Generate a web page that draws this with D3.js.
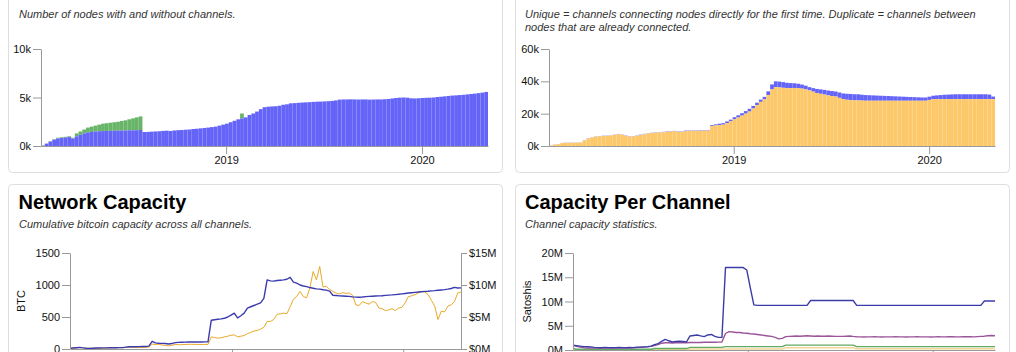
<!DOCTYPE html>
<html>
<head>
<meta charset="utf-8">
<script src="https://cdn.jsdelivr.net/npm/d3@7"></script>
<style>
  body { margin: 0; background: #fff; }
  svg text { font-family: "Liberation Sans", Arial, Helvetica, sans-serif; }
</style>
</head>
<body>
<svg id="chart" width="1016" height="352"></svg>
<script>
// weekly samples, first week starts 2018-01-21, last date 2020-05-03
const firstWeek = new Date(2018, 0, 21);
const weekDates = d3.range(120).map(i => d3.timeDay.offset(firstWeek, 7 * i));
const yearTicks = [new Date(2019, 0, 1), new Date(2020, 0, 1)];

// Nodes (thousands)
const nodesWithChannels = [
  0.05,0.25,0.45,0.65,0.78,0.82,0.88,0.92,0.75,1.0,
  1.15,1.3,1.4,1.45,1.5,1.52,1.54,1.55,1.56,1.58,
  1.58,1.6,1.6,1.62,1.62,1.63,1.65,1.44,1.45,1.48,
  1.5,1.52,1.56,1.58,1.55,1.6,1.63,1.65,1.68,1.7,
  1.75,1.78,1.82,1.86,1.9,1.95,2.0,2.1,2.2,2.3,
  2.45,2.6,2.75,2.85,2.95,3.2,3.35,3.55,3.8,4.0,
  4.05,4.08,4.1,4.15,4.25,4.3,4.4,4.42,4.45,4.48,
  4.5,4.52,4.55,4.57,4.58,4.6,4.62,4.65,4.7,4.78,
  4.8,4.8,4.81,4.8,4.79,4.8,4.8,4.78,4.79,4.8,
  4.8,4.82,4.85,4.9,4.95,4.98,5.0,4.98,4.92,4.9,
  4.92,4.95,4.97,4.98,5.0,5.05,5.08,5.12,5.16,5.2,
  5.22,5.25,5.28,5.32,5.36,5.4,5.45,5.5,5.57];
const nodesWithoutChannels = [
  0,0,0.05,0.05,0.07,0.08,0.07,0.08,0.1,0.3,
  0.35,0.4,0.5,0.55,0.6,0.68,0.76,0.8,0.84,0.87,
  0.92,0.98,1.05,1.13,1.23,1.32,1.4,0,0,0,
  0,0,0,0,0,0,0,0,0,0,
  0,0,0,0,0,0,0,0,0,0,
  0,0,0,0.5,0,0,0,0,0,0,
  0,0,0,0,0,0,0,0,0,0,
  0,0,0,0,0,0,0,0,0,0,
  0,0,0,0,0,0,0,0,0,0,
  0,0,0,0,0,0,0,0,0,0,
  0,0,0,0,0,0,0,0,0,0,
  0,0,0,0,0,0,0,0,0];

// Channels (thousands)
const channelsUnique = [
  0.3,0.8,1.1,1.8,2.0,2.0,2.0,2.0,2.1,3.5,
  4.7,5.3,5.8,6.0,6.2,6.3,6.5,6.8,7.3,7.0,
  6.3,5.8,6.0,6.3,6.8,7.3,7.8,8.0,8.2,8.4,
  8.5,8.7,9.0,9.1,8.8,8.7,9.3,9.4,9.4,9.4,
  9.4,9.5,9.5,12.4,12.7,13.0,13.2,14.2,15.2,16.5,
  17.6,18.8,20.0,21.3,23.2,25.3,27.3,28.8,31.5,35.0,
  36.4,36.2,36.0,35.8,35.8,35.9,35.8,35.5,35.0,34.4,
  33.6,32.8,32.3,31.8,31.3,30.9,30.6,29.8,29.0,28.6,
  28.4,28.2,28.2,28.1,28.0,28.0,28.0,28.0,28.0,28.0,
  28.0,28.0,28.0,28.0,28.0,28.0,28.0,28.0,28.0,28.0,
  28.0,28.5,29.0,29.0,29.0,29.0,29.0,29.0,29.0,29.0,
  29.0,29.0,29.0,29.0,29.0,29.0,29.0,29.0,29.0];
const channelsDuplicate = [
  0.05,0.1,0.1,0.1,0.1,0.1,0.1,0.1,0.1,0.15,
  0.15,0.15,0.15,0.15,0.15,0.15,0.15,0.15,0.15,0.15,
  0.2,0.2,0.2,0.2,0.2,0.2,0.2,0.2,0.2,0.2,
  0.25,0.25,0.25,0.25,0.25,0.25,0.25,0.25,0.25,0.25,
  0.3,0.3,0.3,0.5,0.7,0.8,0.9,1.0,1.1,1.3,
  1.4,1.5,1.6,1.7,1.6,1.5,1.4,1.6,2.3,3.1,
  3.6,3.6,3.5,3.3,3.1,2.9,2.7,2.5,2.3,2.0,
  2.2,2.5,2.7,2.9,3.0,3.1,3.1,3.3,3.5,3.7,
  3.8,3.8,3.8,3.6,3.5,3.4,3.3,3.2,3.1,3.0,
  2.9,2.8,2.7,2.6,2.5,2.4,2.3,2.2,2.1,2.0,
  2.0,2.0,2.1,2.3,2.5,2.7,2.8,2.9,3.0,3.0,
  3.0,3.0,3.0,3.0,3.0,3.0,3.0,2.8,1.6];

// Network capacity: BTC and USD (millions)
const capacityBtc = [
  10,15,20,26,18,12,10,12,15,16,
  18,18,20,20,20,22,22,30,36,36,
  36,37,38,40,45,120,95,90,88,85,
  78,85,100,104,106,108,110,110,110,110,
  110,112,112,450,458,465,470,480,500,530,
  560,485,520,560,640,660,680,700,720,790,
  1080,1065,1060,1070,1075,1080,1090,1120,1045,1030,
  1000,985,975,960,950,940,935,925,920,905,
  840,835,830,828,825,823,815,810,808,812,
  818,822,825,828,830,833,838,842,845,850,
  855,862,868,875,880,885,890,895,900,903,
  908,912,918,922,927,935,945,962,953,955];
const capacityUsd = [
  0.12,0.17,0.16,0.22,0.19,0.12,0.11,0.11,0.12,0.13,
  0.12,0.13,0.16,0.18,0.18,0.21,0.19,0.25,0.26,0.27,
  0.24,0.24,0.23,0.26,0.30,0.76,0.70,0.74,0.62,0.54,
  0.50,0.57,0.73,0.66,0.69,0.71,0.73,0.73,0.72,0.72,
  0.70,0.72,0.71,1.9,1.8,1.7,1.75,1.9,2.0,2.15,
  2.2,1.9,2.0,2.1,2.4,2.6,2.8,2.9,3.1,3.4,
  4.3,4.3,4.6,5.4,5.5,5.6,5.5,6.6,7.8,8.2,
  9.0,8.2,8.0,9.5,12.1,10.8,12.9,9.7,9.8,9.3,
  9.0,8.75,8.6,8.8,8.7,8.75,8.4,6.9,6.8,7.4,
  7.2,7.0,7.4,7.3,6.4,6.3,6.0,6.1,6.3,6.0,
  6.4,6.5,7.2,8.2,8.3,8.5,8.75,9.0,8.9,8.5,
  7.6,6.7,4.6,5.9,5.8,6.7,6.9,7.4,8.75,8.9];

// Capacity per channel (millions of satoshis)
const perChannelHigh = [
  1.0,0.9,0.8,0.7,0.7,0.65,0.55,0.5,0.45,0.55,
  0.5,0.45,0.5,0.55,0.5,0.5,0.55,0.5,0.6,0.6,
  0.65,0.7,0.8,1.1,1.3,1.8,2.2,1.9,1.65,1.75,
  1.8,1.75,1.65,2.9,3.0,3.1,2.9,2.75,3.1,3.2,
  2.8,2.6,2.6,17.0,17.0,17.0,17.0,17.0,17.0,16.5,
  12.8,9.3,9.2,9.2,9.2,9.2,9.2,9.2,9.2,9.2,
  9.2,9.2,9.2,9.2,9.2,9.2,9.2,10.2,10.2,10.2,
  10.2,10.2,10.2,10.2,10.2,10.2,10.2,10.2,10.2,10.2,
  9.2,9.2,9.2,9.2,9.2,9.2,9.2,9.2,9.2,9.2,
  9.2,9.2,9.2,9.2,9.2,9.2,9.2,9.2,9.2,9.2,
  9.2,9.2,9.2,9.2,9.2,9.2,9.2,9.2,9.2,9.2,
  9.2,9.2,9.2,9.2,9.2,9.2,10.1,10.1,10.1,10.1];
const perChannelMean = [
  0.9,0.75,0.6,0.5,0.42,0.4,0.38,0.4,0.42,0.4,
  0.38,0.4,0.42,0.45,0.42,0.4,0.42,0.45,0.5,0.55,
  0.6,0.65,0.75,0.9,1.1,1.4,1.5,1.5,1.45,1.5,
  1.5,1.5,1.5,1.55,1.55,1.55,1.55,1.6,1.6,1.6,
  1.6,1.62,1.65,3.4,3.8,3.7,3.6,3.6,3.5,3.45,
  3.35,3.3,3.2,3.1,3.0,2.9,2.8,2.6,2.3,2.4,
  2.75,2.8,2.85,2.9,2.85,2.9,2.95,2.9,2.85,2.9,
  2.85,2.85,2.9,2.85,2.8,2.8,2.8,2.85,2.9,2.8,
  2.72,2.7,2.68,2.7,2.7,2.72,2.7,2.68,2.7,2.7,
  2.7,2.72,2.7,2.7,2.68,2.7,2.7,2.72,2.7,2.7,
  2.7,2.68,2.7,2.72,2.7,2.7,2.72,2.75,2.7,2.7,
  2.72,2.72,2.75,2.7,2.75,2.8,2.85,2.95,3.0,2.95];
const perChannelMedian = [
  0.3,0.15,0.15,0.15,0.15,0.15,0.15,0.15,0.15,0.15,
  0.15,0.15,0.15,0.15,0.15,0.15,0.15,0.15,0.15,0.15,
  0.15,0.15,0.15,0.3,0.3,0.3,0.3,0.3,0.3,0.3,
  0.3,0.3,0.3,0.55,0.55,0.55,0.55,0.55,0.55,0.55,
  0.55,0.55,0.55,0.7,0.7,0.7,0.7,0.7,0.7,0.7,
  0.7,0.7,0.7,0.7,0.7,0.7,0.7,0.7,0.7,0.7,
  1.0,1.0,1.0,1.0,1.0,1.0,1.0,1.0,1.0,1.0,
  1.0,1.0,1.0,1.0,1.0,1.0,1.0,1.0,1.0,1.0,
  0.7,0.7,0.7,0.7,0.7,0.7,0.7,0.7,0.7,0.7,
  0.7,0.7,0.7,0.7,0.7,0.7,0.7,0.7,0.7,0.7,
  0.7,0.7,0.7,0.7,0.7,0.7,0.7,0.7,0.7,0.7,
  0.7,0.7,0.7,0.7,0.7,0.7,0.7,0.7,0.7,0.7];
const perChannelLow = [
  0.08,0.08,0.08,0.08,0.08,0.08,0.08,0.08,0.08,0.08,
  0.08,0.08,0.08,0.08,0.08,0.08,0.08,0.08,0.08,0.08,
  0.08,0.08,0.08,0.08,0.08,0.08,0.08,0.08,0.08,0.08,
  0.08,0.08,0.08,0.2,0.2,0.2,0.2,0.2,0.2,0.2,
  0.2,0.2,0.2,0.2,0.2,0.2,0.2,0.2,0.2,0.2,
  0.2,0.2,0.2,0.2,0.2,0.2,0.2,0.2,0.2,0.2,
  0.45,0.45,0.45,0.45,0.45,0.45,0.45,0.45,0.45,0.45,
  0.45,0.45,0.45,0.45,0.45,0.45,0.45,0.45,0.45,0.45,
  0.25,0.25,0.25,0.25,0.25,0.25,0.25,0.25,0.25,0.25,
  0.25,0.25,0.25,0.25,0.25,0.25,0.25,0.25,0.25,0.25,
  0.25,0.25,0.25,0.25,0.25,0.25,0.25,0.25,0.25,0.25,
  0.25,0.25,0.25,0.25,0.25,0.25,0.25,0.25,0.25,0.25];

const svg = d3.select("#chart");

/* cards */
const cards = [
  {x: 8.5,   y: -27.5, w: 494, h: 200},
  {x: 515.5, y: -27.5, w: 494, h: 200},
  {x: 8.5,   y: 184.5, w: 494, h: 200},
  {x: 515.5, y: 184.5, w: 494, h: 200}
];
svg.selectAll("rect.card")
  .data(cards)
  .enter()
  .append("rect")
  .attr("class", "card")
  .attr("x", d => d.x).attr("y", d => d.y)
  .attr("width", d => d.w).attr("height", d => d.h)
  .attr("rx", 4)
  .attr("fill", "#fff")
  .attr("stroke", "#dddddd");

/* titles and captions (top two titles sit above the visible area) */
const titles = [
  {t: "Nodes", x: 19, y: -0.5},
  {t: "Channels", x: 525, y: -0.5},
  {t: "Network Capacity", x: 18.5, y: 209},
  {t: "Capacity Per Channel", x: 525, y: 209}
];
svg.selectAll("text.title")
  .data(titles)
  .enter()
  .append("text")
  .attr("class", "title")
  .attr("x", d => d.x).attr("y", d => d.y)
  .attr("font-size", 20).attr("font-weight", "bold").attr("fill", "#000")
  .text(d => d.t);

const captions = [
  {t: "Number of nodes with and without channels.", x: 19, y: 18},
  {t: "Unique = channels connecting nodes directly for the first time. Duplicate = channels between", x: 525, y: 18},
  {t: "nodes that are already connected.", x: 525, y: 31},
  {t: "Cumulative bitcoin capacity across all channels.", x: 19, y: 228},
  {t: "Channel capacity statistics.", x: 525, y: 228}
];
svg.selectAll("text.caption")
  .data(captions)
  .enter()
  .append("text")
  .attr("class", "caption")
  .attr("x", d => d.x).attr("y", d => d.y)
  .attr("font-size", 11).attr("font-style", "italic").attr("fill", "#333")
  .text(d => d.t);

function styleAxis(g) {
  g.attr("font-family", null).attr("font-size", null);
  g.select(".domain").attr("stroke", "#999");
  g.selectAll(".tick line").attr("stroke", "#999");
  g.selectAll(".tick text").attr("fill", "#111").attr("font-size", 11);
}

function xAxisFor(g, xScale, y) {
  g.append("g")
    .attr("transform", `translate(0,${y})`)
    .call(d3.axisBottom(xScale).tickValues(yearTicks).tickFormat(d3.timeFormat("%Y"))
            .tickSizeInner(8).tickSizeOuter(0).tickPadding(2))
    .call(styleAxis);
}

/* stacked weekly bars */
function stackedBars(box, lower, upper, yMax, yTicks, lowColor, upColor) {
  const xScale = d3.scaleTime().domain([weekDates[0], weekDates[119]]).range([box.left, box.right]);
  const yScale = d3.scaleLinear().domain([0, yMax]).range([box.bottom, box.top]);
  const g = svg.append("g");
  const idx = d3.range(119);

  g.selectAll(".upper")
    .data(idx)
    .enter()
    .append("rect")
    .attr("x", i => xScale(weekDates[i]))
    .attr("width", i => xScale(weekDates[i + 1]) - xScale(weekDates[i]))
    .attr("y", i => yScale(lower[i] + upper[i]))
    .attr("height", i => yScale(lower[i]) - yScale(lower[i] + upper[i]))
    .attr("fill", upColor);

  g.selectAll(".lower")
    .data(idx)
    .enter()
    .append("rect")
    .attr("x", i => xScale(weekDates[i]))
    .attr("width", i => xScale(weekDates[i + 1]) - xScale(weekDates[i]))
    .attr("y", i => yScale(lower[i]))
    .attr("height", i => box.bottom - yScale(lower[i]))
    .attr("fill", lowColor);

  g.append("g")
    .attr("transform", `translate(${box.left},0)`)
    .call(d3.axisLeft(yScale).tickValues(yTicks).tickFormat(d => d + "k")
            .tickSizeInner(8).tickSizeOuter(0).tickPadding(2))
    .call(styleAxis);
  xAxisFor(g, xScale, box.bottom);
}

stackedBars({left: 41, right: 488, top: 49, bottom: 146},
  nodesWithChannels, nodesWithoutChannels, 10, [0, 5, 10], "#6464f8", "#68b468");
stackedBars({left: 549, right: 995, top: 49, bottom: 146},
  channelsUnique, channelsDuplicate, 60, [0, 20, 40, 60], "#fdc86a", "#6464f8");

/* line panels */
function linePanel(box, series, yMax, yTicks, yFormat, yLabel) {
  const xScale = d3.scaleTime().domain([weekDates[0], weekDates[119]]).range([box.left, box.right]);
  const yScale = d3.scaleLinear().domain([0, yMax]).range([box.bottom, box.top]);
  const g = svg.append("g");

  series.forEach(s => {
    const sy = s.scale || yScale;
    g.append("path")
      .datum(s.values)
      .attr("fill", "none")
      .attr("stroke", s.color)
      .attr("stroke-width", s.width)
      .attr("stroke-linejoin", "round")
      .attr("d", d3.line().x((d, i) => xScale(weekDates[i])).y(d => sy(d)));
  });

  g.append("g")
    .attr("transform", `translate(${box.left},0)`)
    .call(d3.axisLeft(yScale).tickValues(yTicks).tickFormat(yFormat)
            .tickSizeInner(8).tickSizeOuter(0).tickPadding(2))
    .call(styleAxis);
  xAxisFor(g, xScale, box.bottom);

  g.append("text")
    .attr("transform", `translate(${yLabel.x},${(box.top + box.bottom) / 2}) rotate(-90)`)
    .attr("text-anchor", "middle")
    .attr("font-size", 11)
    .attr("fill", "#111")
    .text(yLabel.t);
  return {g, xScale, yScale};
}

const capBox = {left: 70, right: 461, top: 253, bottom: 349};
const usdScale = d3.scaleLinear().domain([0, 15]).range([capBox.bottom, capBox.top]);
const cap = linePanel(capBox, [
    {values: capacityUsd, color: "#e9a928", width: 1, scale: usdScale},
    {values: capacityBtc, color: "#3b3bb0", width: 1.4}
  ], 1500, [0, 500, 1000, 1500], d => d, {t: "BTC", x: 24.5});
cap.g.append("g")
  .attr("transform", `translate(${capBox.right},0)`)
  .call(d3.axisRight(usdScale).tickValues([0, 5, 10, 15]).tickFormat(d => "$" + d + "M")
          .tickSizeInner(6).tickSizeOuter(0).tickPadding(2))
  .call(styleAxis);

linePanel({left: 573, right: 995, top: 253, bottom: 350}, [
    {values: perChannelLow, color: "#f3d596", width: 1.4},
    {values: perChannelMedian, color: "#62aa62", width: 1.4},
    {values: perChannelMean, color: "#9a559a", width: 1.4},
    {values: perChannelHigh, color: "#3c3ca8", width: 1.4}
  ], 20, [0, 5, 10, 15, 20], d => d + "M", {t: "Satoshis", x: 531});
</script>
</body>
</html>
